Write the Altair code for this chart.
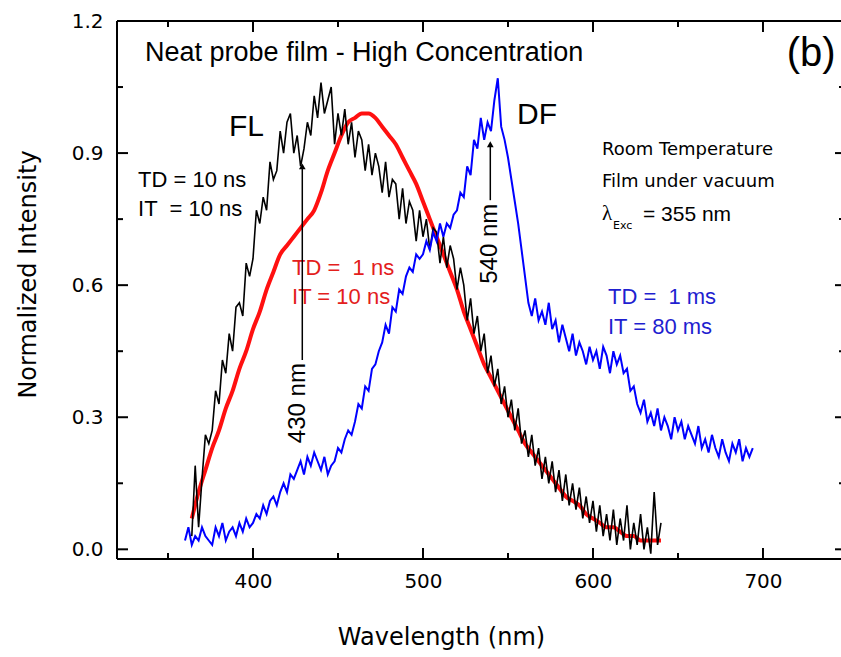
import altair as alt
import pandas as pd

# ---------------- data ----------------
black_wl = list(range(364, 642, 2))
black_v = [0.03, 0.19, 0.05, 0.16, 0.26, 0.24, 0.27, 0.36, 0.33, 0.43,
           0.40, 0.49, 0.45, 0.55, 0.56, 0.53, 0.65, 0.62, 0.66, 0.77,
           0.74, 0.80, 0.77, 0.88, 0.84, 0.86, 0.95, 0.90, 0.97, 0.99,
           0.90, 0.94, 0.87, 0.91, 0.97, 0.94, 1.03, 0.98, 1.06, 0.99,
           1.02, 1.05, 0.92, 0.99, 0.94, 1.00, 0.92, 0.97, 0.89, 0.95,
           0.93, 0.86, 0.92, 0.85, 0.90, 0.87, 0.81, 0.88, 0.80, 0.84,
           0.83, 0.75, 0.82, 0.74, 0.79, 0.77, 0.70, 0.77, 0.71, 0.75,
           0.68, 0.73, 0.72, 0.65, 0.71, 0.64, 0.69, 0.66, 0.59, 0.64,
           0.60, 0.52, 0.57, 0.49, 0.53, 0.45, 0.49, 0.40, 0.44, 0.37,
           0.41, 0.33, 0.37, 0.30, 0.34, 0.27, 0.32, 0.24, 0.27, 0.21,
           0.26, 0.19, 0.23, 0.16, 0.21, 0.15, 0.20, 0.13, 0.18, 0.11,
           0.17, 0.10, 0.15, 0.09, 0.14, 0.07, 0.12, 0.06, 0.11, 0.04,
           0.10, 0.03, 0.08, 0.02, 0.09, 0.01, 0.07, 0.02, 0.10, 0.00,
           0.06, 0.01, 0.08, 0.00, 0.05, -0.01, 0.13, 0.01, 0.06]

red_wl = list(range(364, 644, 4))
red_v = [0.07, 0.13, 0.18, 0.23, 0.27, 0.32, 0.36, 0.41, 0.45, 0.50,
         0.54, 0.59, 0.63, 0.67, 0.69, 0.71, 0.73, 0.75, 0.77, 0.81,
         0.86, 0.90, 0.94, 0.97, 0.98, 0.99, 0.99, 0.98, 0.96, 0.94,
         0.92, 0.89, 0.86, 0.83, 0.79, 0.75, 0.71, 0.67, 0.63, 0.59,
         0.54, 0.50, 0.46, 0.42, 0.39, 0.36, 0.33, 0.30, 0.27, 0.24,
         0.22, 0.20, 0.18, 0.16, 0.14, 0.12, 0.11, 0.10, 0.08, 0.07,
         0.06, 0.05, 0.05, 0.04, 0.03, 0.03, 0.02, 0.02, 0.02, 0.02]

blue_wl = list(range(360, 696, 2))
blue_v = [0.02, 0.05, 0.01, 0.03, 0.02, 0.05, 0.03, 0.02, 0.01, 0.05,
          0.03, 0.06, 0.02, 0.04, 0.05, 0.03, 0.06, 0.04, 0.07, 0.05,
          0.06, 0.08, 0.07, 0.10, 0.08, 0.11, 0.12, 0.10, 0.13, 0.15,
          0.13, 0.17, 0.16, 0.18, 0.20, 0.17, 0.21, 0.19, 0.22, 0.20,
          0.18, 0.21, 0.17, 0.19, 0.20, 0.23, 0.22, 0.25, 0.27, 0.26,
          0.29, 0.33, 0.32, 0.37, 0.36, 0.41, 0.42, 0.45, 0.47, 0.51,
          0.49, 0.55, 0.54, 0.59, 0.58, 0.62, 0.64, 0.63, 0.67, 0.66,
          0.67, 0.70, 0.68, 0.72, 0.70, 0.74, 0.71, 0.74, 0.73, 0.76,
          0.77, 0.81, 0.80, 0.87, 0.85, 0.93, 0.91, 0.98, 0.93, 0.97,
          0.95, 1.02, 1.07, 0.96, 0.93, 0.89, 0.84, 0.79, 0.74, 0.68,
          0.62, 0.56, 0.53, 0.57, 0.52, 0.54, 0.51, 0.56, 0.50, 0.52,
          0.47, 0.51, 0.48, 0.45, 0.49, 0.44, 0.47, 0.45, 0.42, 0.46,
          0.43, 0.45, 0.41, 0.46, 0.44, 0.40, 0.45, 0.42, 0.44, 0.40,
          0.41, 0.36, 0.37, 0.33, 0.31, 0.34, 0.29, 0.31, 0.28, 0.32,
          0.27, 0.30, 0.28, 0.25, 0.30, 0.27, 0.29, 0.25, 0.28, 0.26,
          0.24, 0.28, 0.23, 0.25, 0.22, 0.26, 0.23, 0.21, 0.25, 0.22,
          0.20, 0.24, 0.22, 0.25, 0.20, 0.23, 0.21, 0.23]

x_major = [400, 500, 600, 700]
x_minor = [350, 450, 550, 650]
y_major = [0.0, 0.3, 0.6, 0.9, 1.2]
y_minor = [0.15, 0.45, 0.75, 1.05]

NB = "\u00a0"
# annotations (Arial-like)
ann_text = ["Neat probe film - High Concentration", "(b)", "FL", "DF",
            "TD = 10 ns", "IT " + NB + "= 10 ns", "TD = " + NB + "1 ns", "IT = 10 ns",
            "TD = " + NB + "1 ms", "IT = 80 ms", "= 355 nm"]
ann_wl = [336.5, 714.0, 385.9, 555.3, 332.4, 332.4, 423.0, 423.0, 608.8, 608.8, 629.4]
ann_v = [1.128, 1.124, 0.959, 0.986, 0.838, 0.772, 0.638, 0.573, 0.573, 0.505, 0.759]
ann_col = ["black", "black", "black", "black", "black", "black",
           "#e3201c", "#e3201c", "#1f1fd0", "#1f1fd0", "black"]
ann_size = [27, 40, 30, 30, 22, 22, 22, 22, 22, 22, 21]

note_text = ["Room Temperature", "Film under vacuum"]
note_wl = [605.3, 605.3]
note_v = [0.906, 0.834]

peak_text = ["430 nm", "540 nm"]
peak_wl = [426.2, 539.4]
peak_v = [0.332, 0.694]

arrow_wl = [429.0, 539.6]
arrow_v0 = [0.43, 0.793]
arrow_v1 = [0.865, 0.915]
arrow_tip = [0.870, 0.920]

# ---------------- chart ----------------
W, H = 724, 538
xs = alt.Scale(domain=[320, 745.9], nice=False, zero=False)
ys = alt.Scale(domain=[-0.022, 1.2], nice=False, zero=False)

xaxis = alt.Axis(values=x_major, ticks=False, domain=False, grid=False,
                 labelFont="DejaVu Sans", labelFontSize=20, labelColor="black",
                 labelPadding=12, labelFlush=False,
                 title="Wavelength (nm)", titleFont="DejaVu Sans", titleFontSize=24,
                 titleFontWeight="normal", titleColor="black",
                 titleX=324, titleY=78, titleAlign="center", titleBaseline="middle")
yaxis = alt.Axis(values=y_major, format=".1f", ticks=False, domain=False, grid=False,
                 labelFont="DejaVu Sans", labelFontSize=20, labelColor="black",
                 labelPadding=14, labelFlush=False,
                 title="Normalized Intensity", titleFont="DejaVu Sans", titleFontSize=24,
                 titleFontWeight="normal", titleColor="black",
                 titleX=-89, titleY=253, titleAngle=270, titleAlign="center",
                 titleBaseline="middle")


def X(f):
    return alt.X(f"{f}:Q", scale=xs, axis=xaxis)


def Y(f):
    return alt.Y(f"{f}:Q", scale=ys, axis=yaxis)


df_red = pd.DataFrame({"wl": red_wl, "v": red_v})
df_black = pd.DataFrame({"wl": black_wl, "v": black_v})
df_blue = pd.DataFrame({"wl": blue_wl, "v": blue_v})

red = alt.Chart(df_red).mark_line(color="#ff1010", strokeWidth=4, interpolate="monotone").encode(
    x=X("wl"), y=Y("v"))
black = alt.Chart(df_black).mark_line(color="black", strokeWidth=1.6).encode(x=X("wl"), y=Y("v"))
blue = alt.Chart(df_blue).mark_line(color="#0000ff", strokeWidth=2).encode(x=X("wl"), y=Y("v"))

one = pd.DataFrame({"a": [0]})
frame = alt.layer(
    alt.Chart(one).mark_rule(color="black", strokeWidth=2).encode(
        x=alt.value(0), x2=alt.value(W), y=alt.value(0)),
    alt.Chart(one).mark_rule(color="black", strokeWidth=2).encode(
        x=alt.value(0), x2=alt.value(W), y=alt.value(H)),
    alt.Chart(one).mark_rule(color="black", strokeWidth=2).encode(
        x=alt.value(0), y=alt.value(0), y2=alt.value(H)),
)

dxM = pd.DataFrame({"wl": x_major})
dxm = pd.DataFrame({"wl": x_minor})
dyM = pd.DataFrame({"v": y_major})
dym = pd.DataFrame({"v": y_minor})
tk = dict(color="black", strokeWidth=2)
ticks = alt.layer(
    alt.Chart(dxM).mark_rule(**tk).encode(x=X("wl"), y=alt.value(H), y2=alt.value(H - 11)),
    alt.Chart(dxm).mark_rule(**tk).encode(x=X("wl"), y=alt.value(H), y2=alt.value(H - 6)),
    alt.Chart(dxM).mark_rule(**tk).encode(x=X("wl"), y=alt.value(0), y2=alt.value(11)),
    alt.Chart(dxm).mark_rule(**tk).encode(x=X("wl"), y=alt.value(0), y2=alt.value(6)),
    alt.Chart(dyM).mark_rule(**tk).encode(y=Y("v"), x=alt.value(0), x2=alt.value(11)),
    alt.Chart(dym).mark_rule(**tk).encode(y=Y("v"), x=alt.value(0), x2=alt.value(6)),
    alt.Chart(dyM).mark_rule(**tk).encode(y=Y("v"), x=alt.value(W - 6), x2=alt.value(W)),
    alt.Chart(dym).mark_rule(**tk).encode(y=Y("v"), x=alt.value(W - 2), x2=alt.value(W)),
)

df_ann = pd.DataFrame({"t": ann_text, "wl": ann_wl, "v": ann_v, "c": ann_col, "s": ann_size})
ann = alt.Chart(df_ann).mark_text(align="left", baseline="middle", font="Liberation Sans").encode(
    x=X("wl"), y=Y("v"), text="t:N",
    color=alt.Color("c:N", scale=None), size=alt.Size("s:Q", scale=None))

df_note = pd.DataFrame({"t": note_text, "wl": note_wl, "v": note_v})
notes = alt.Chart(df_note).mark_text(align="left", baseline="middle", font="DejaVu Sans",
                                     fontSize=18, color="black").encode(
    x=X("wl"), y=Y("v"), text="t:N")

lam = alt.Chart(pd.DataFrame({"t": ["λ"], "wl": [605.3], "v": [0.761]})).mark_text(
    align="left", baseline="middle", font="Liberation Serif", fontSize=21, color="black").encode(
    x=X("wl"), y=Y("v"), text="t:N")
exc = alt.Chart(pd.DataFrame({"t": ["Exc"], "wl": [611.8], "v": [0.734]})).mark_text(
    align="left", baseline="middle", font="DejaVu Sans", fontSize=11, color="black").encode(
    x=X("wl"), y=Y("v"), text="t:N")

df_peak = pd.DataFrame({"t": peak_text, "wl": peak_wl, "v": peak_v})
peaks = alt.Chart(df_peak).mark_text(align="center", baseline="middle", angle=270,
                                     font="Liberation Sans", fontSize=24, color="black").encode(
    x=X("wl"), y=Y("v"), text="t:N")

df_arr = pd.DataFrame({"wl": arrow_wl, "v": arrow_v0, "v2": arrow_v1, "tip": arrow_tip})
arr_line = alt.Chart(df_arr).mark_rule(color="black", strokeWidth=1.5).encode(
    x=X("wl"), y=Y("v"), y2="v2:Q")
arr_head = alt.Chart(df_arr).mark_point(shape="triangle-up", filled=True, size=45,
                                        color="black", opacity=1).encode(
    x=X("wl"), y=Y("tip"))

chart = alt.layer(
    red, black, blue, frame, ticks, ann, notes, lam, exc, peaks, arr_line, arr_head
).properties(
    width=W, height=H,
    padding={"left": 117, "top": 21, "right": 0, "bottom": 98},
    autosize=alt.AutoSizeParams(type="none"),
    background="white",
).configure_view(strokeWidth=0)

chart.save("out.html", embed_options={"renderer": "svg", "actions": False})
